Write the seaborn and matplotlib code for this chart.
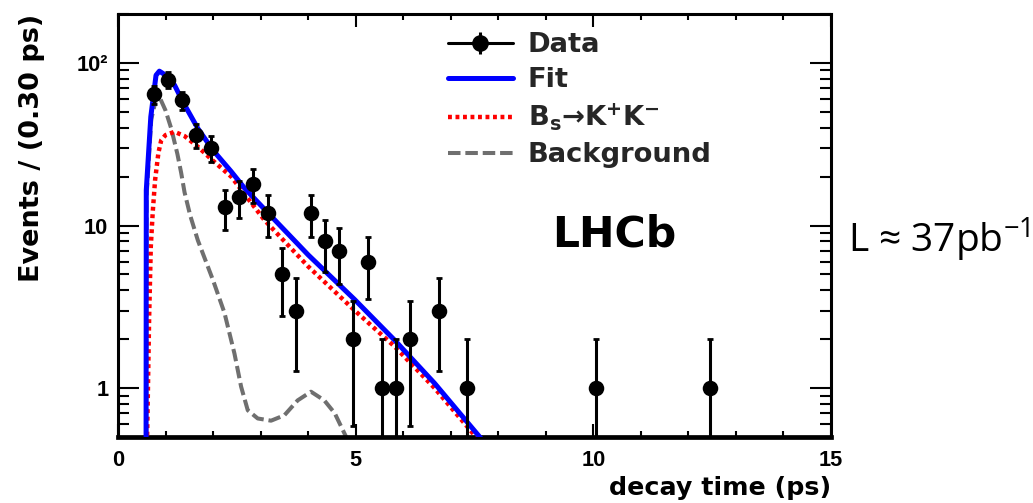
import matplotlib
matplotlib.use("Agg")
import matplotlib.pyplot as plt
import seaborn as sns
import pandas as pd
from matplotlib.lines import Line2D
from matplotlib.legend_handler import HandlerTuple
from matplotlib.ticker import FixedLocator, FixedFormatter, LogLocator, NullFormatter, MultipleLocator

# ---------------- data ----------------
data_t = [0.75, 1.05, 1.35, 1.65, 1.95, 2.25, 2.55, 2.85, 3.15, 3.45, 3.75, 4.05,
          4.35, 4.65, 4.95, 5.25, 5.55, 5.85, 6.15, 6.75, 7.35, 10.05, 12.45]
data_n = [64, 79, 59, 36, 30, 13, 15, 18, 12, 5, 3, 12,
          8, 7, 2, 6, 1, 1, 2, 3, 1, 1, 1]

fit_t = [0.59, 0.595, 0.69, 0.80, 0.87, 0.95, 1.07, 1.19, 1.36, 1.68, 2.0, 2.38,
         2.66, 3.15, 4.0, 4.98, 5.82, 6.66, 7.61, 7.8]
fit_y = [0.3, 16.5, 46.6, 84, 89, 86, 80, 73, 58, 39.5, 29, 21.5,
         17, 12, 6.6, 3.5, 1.97, 1.07, 0.5, 0.43]

sig_t = [0.60, 0.655, 0.69, 0.73, 0.78, 0.85, 0.91, 1.0, 1.19, 1.4, 1.68, 2.0,
         2.38, 3.08, 4.0, 4.98, 5.82, 6.66, 7.61, 7.8]
sig_y = [0.3, 2.7, 7.4, 12, 19, 28, 33.5, 36, 37.7, 35.5, 30.5, 25,
         20, 10.8, 5.6, 3.0, 1.8, 1.0, 0.47, 0.42]

bkg_t = [0.595, 0.60, 0.70, 0.80, 0.87, 1.0, 1.12, 1.25, 1.33, 1.40, 1.52, 1.68,
         1.85, 2.0, 2.24, 2.45, 2.59, 2.73, 2.94, 3.22, 3.5, 3.78, 4.06, 4.34,
         4.56, 4.80, 4.9]
bkg_y = [0.3, 15, 45, 60, 62, 51, 39.5, 27.5, 21, 16, 11.5, 8.1,
         6, 4.6, 2.9, 1.63, 1.02, 0.73, 0.65, 0.63, 0.68, 0.84, 0.95, 0.84,
         0.70, 0.5, 0.44]

x_ticks = [0, 5, 10, 15]
x_ticklabels = ["0", "5", "10", "15"]
y_ticks = [1, 10, 100]
y_ticklabels = ["1", "10", "10²"]

legend_labels = ["Data", "Fit", r"B$_\mathregular{s}$→K$^\mathregular{+}$K$^\mathregular{-}$", "Background"]

# ---------------- style ----------------
sns.set_style("ticks")
plt.rcParams["font.family"] = ["DejaVu Sans"]
plt.rcParams["font.weight"] = "bold"
plt.rcParams["lines.scale_dashes"] = False

fig = plt.figure(figsize=(10.33, 5.03), dpi=100)
ax = fig.add_axes([118 / 1033, 1 - 437 / 503, 713 / 1033, 423 / 503])

df_fit = pd.DataFrame({"t": fit_t, "y": fit_y})
df_sig = pd.DataFrame({"t": sig_t, "y": sig_y})
df_bkg = pd.DataFrame({"t": bkg_t, "y": bkg_y})
df_data = pd.DataFrame({"t": data_t, "n": data_n})
df_data["err"] = df_data["n"] ** 0.5

sns.lineplot(data=df_bkg, x="t", y="y", ax=ax, color="#6f6f6f", lw=2.9,
             dashes=(9, 3.5), sort=False, estimator=None, zorder=2)
sns.lineplot(data=df_sig, x="t", y="y", ax=ax, color="#ff0000", lw=3.2,
             dashes=(2.8, 2.6), sort=False, estimator=None, zorder=3)
sns.lineplot(data=df_fit, x="t", y="y", ax=ax, color="#0000ff", lw=3.6,
             sort=False, estimator=None, zorder=4)

ax.errorbar(df_data["t"], df_data["n"], yerr=df_data["err"], fmt="none",
            ecolor="black", elinewidth=2.2, capsize=2.4, capthick=2.0, zorder=5)
sns.scatterplot(data=df_data, x="t", y="n", ax=ax, color="black", s=125,
                linewidth=0, zorder=6)

ax.set_yscale("log")
ax.set_xlim(0, 15)
ax.set_ylim(0.5, 200)

ax.xaxis.set_major_locator(FixedLocator(x_ticks))
ax.xaxis.set_major_formatter(FixedFormatter(x_ticklabels))
ax.xaxis.set_minor_locator(MultipleLocator(1))
ax.yaxis.set_major_locator(FixedLocator(y_ticks))
ax.yaxis.set_major_formatter(FixedFormatter(y_ticklabels))
ax.yaxis.set_minor_locator(LogLocator(base=10, subs=[2, 3, 4, 5, 6, 7, 8, 9]))
ax.yaxis.set_minor_formatter(NullFormatter())

ax.tick_params(axis="both", which="both", direction="in", top=True, right=True,
               color="black", width=1.5, labelsize=15.7,
               labelfontfamily="Liberation Sans", labelcolor="black")
ax.tick_params(axis="x", which="major", length=9.5, pad=9)
ax.tick_params(axis="x", which="minor", length=4.5)
ax.tick_params(axis="y", which="major", length=15, pad=7)
ax.tick_params(axis="y", which="minor", length=8)

for side in ["left", "right", "top"]:
    ax.spines[side].set_linewidth(2.2)
    ax.spines[side].set_color("black")
ax.spines["bottom"].set_linewidth(3.4)
ax.spines["bottom"].set_color("black")

ax.set_xlabel("decay time (ps)", loc="right", fontsize=18.3, fontweight="bold", color="black")
ax.set_ylabel("Events / (0.30 ps)", loc="top", fontsize=19.5, fontweight="bold", color="black")
ax.xaxis.set_label_coords(1.0, -0.092)
ax.yaxis.set_label_coords(-0.103, 1.0)

ax.text(0.6957, 0.4515, "LHCb", transform=ax.transAxes, ha="center", va="baseline",
        fontsize=30.6, fontweight="bold", color="black")

fig.text(848 / 1033, 1 - 253 / 503, r"L ≈ 37pb$^\mathregular{-1}$", ha="left", va="baseline",
         fontsize=28, fontweight="normal", family=["Open Sans", "DejaVu Sans"], color="black")

h_data = (Line2D([], [], color="black", lw=2.2, marker="o", ms=11),
          Line2D([], [], color="black", ls="none", marker="|", ms=16, mew=2.2))
h_fit = Line2D([], [], color="#0000ff", lw=3.6)
h_sig = Line2D([], [], color="#ff0000", lw=3.2, dashes=(2.8, 2.6))
h_bkg = Line2D([], [], color="#6f6f6f", lw=2.9, dashes=(9, 3.5))
leg = ax.legend([h_data, h_fit, h_sig, h_bkg], legend_labels,
                handler_map={tuple: HandlerTuple(ndivide=1)},
                loc="upper left", bbox_to_anchor=(0.4628, 0.957), frameon=False,
                prop={"family": "DejaVu Sans", "weight": "bold", "size": 19.7},
                handlelength=2.37, handletextpad=0.55, labelspacing=0.33,
                borderpad=0, borderaxespad=0)

fig.savefig("out.png", dpi=100)
